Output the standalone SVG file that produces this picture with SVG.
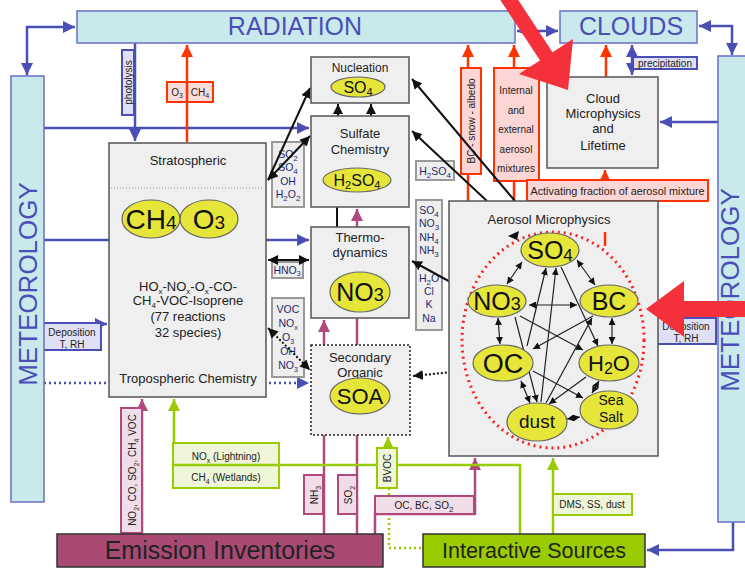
<svg xmlns="http://www.w3.org/2000/svg" width="745" height="568" viewBox="0 0 745 568">
<style>
text{font-family:"Liberation Sans",Arial,sans-serif;fill:#222}
.box{fill:#efefef;stroke:#555;stroke-width:1.5}
.cyan{fill:#c9e9ec;stroke:#6a6fc6;stroke-width:1.5}
.big{fill:#4a4fb8;font-size:25px;text-anchor:middle}
.met{fill:#4a4fb8;font-size:26px;text-anchor:middle}
.t13{font-size:13px;text-anchor:middle}
.ell{fill:#e6e53a;stroke:#666;stroke-width:1.2}
.et{text-anchor:middle;fill:#111}
.blue{stroke:#4a4fb5;stroke-width:2.5;fill:none}
.red{stroke:#ff3300;stroke-width:2.5;fill:none}
.mar{stroke:#b0497e;stroke-width:2.5;fill:none}
.grn{stroke:#99cc00;stroke-width:2.5;fill:none}
.blk{stroke:#111;stroke-width:2;fill:none}
.thin{stroke:#222;stroke-width:1.2;fill:none}
.gl{fill:#eeeeee;stroke:#999;stroke-width:2}
.lt{font-size:10.5px;fill:#1e2a6a;text-anchor:middle}
.st{font-size:10px;text-anchor:middle}
.rl{fill:#fcd6d4;stroke:#ff3300;stroke-width:2}
.ml{fill:#f1dde8;stroke:#b0497e;stroke-width:2}
.gr{fill:#eef5d8;stroke:#99cc00;stroke-width:2}
.bl{fill:#dfe0f5;stroke:#4a4fb5;stroke-width:2}
.ann{fill:#f4313b}
</style>
<defs>
<marker id="mb" viewBox="0 0 10 10" refX="10" refY="5" markerWidth="12" markerHeight="12" markerUnits="userSpaceOnUse" orient="auto-start-reverse"><path d="M0,0L10,5L0,10z" fill="#4a4fb5"/></marker>
<marker id="mk" viewBox="0 0 10 10" refX="10" refY="5" markerWidth="10" markerHeight="10" markerUnits="userSpaceOnUse" orient="auto-start-reverse"><path d="M0,0L10,5L0,10z" fill="#111"/></marker>
<marker id="ms" viewBox="0 0 10 10" refX="10" refY="5" markerWidth="7" markerHeight="7" markerUnits="userSpaceOnUse" orient="auto-start-reverse"><path d="M0,0L10,5L0,10z" fill="#111"/></marker>
<marker id="mr" viewBox="0 0 10 10" refX="10" refY="5" markerWidth="12" markerHeight="12" markerUnits="userSpaceOnUse" orient="auto-start-reverse"><path d="M0,0L10,5L0,10z" fill="#ff3300"/></marker>
<marker id="mm" viewBox="0 0 10 10" refX="10" refY="5" markerWidth="12" markerHeight="12" markerUnits="userSpaceOnUse" orient="auto-start-reverse"><path d="M0,0L10,5L0,10z" fill="#b0497e"/></marker>
<marker id="mg" viewBox="0 0 10 10" refX="10" refY="5" markerWidth="12" markerHeight="12" markerUnits="userSpaceOnUse" orient="auto-start-reverse"><path d="M0,0L10,5L0,10z" fill="#99cc00"/></marker>
</defs>
<rect width="745" height="568" fill="#fff"/>

<g id="connectors">
  <path class="blue" d="M75,27 H27 V75" marker-start="url(#mb)" marker-end="url(#mb)"/>
  <path class="blue" d="M699,26 H732 V55" marker-start="url(#mb)" marker-end="url(#mb)"/>
  <path class="blue" d="M517,31 H558" marker-start="url(#mb)" marker-end="url(#mb)"/>
  <path class="blue" d="M135,43 V141" marker-end="url(#mb)"/>
  <path class="blue" d="M44,128 H309" marker-end="url(#mb)"/>
  <path class="blue" d="M44,240 H309" marker-end="url(#mb)"/>
  <path class="blue" d="M44,383 H309" stroke-dasharray="2,3" marker-end="url(#mb)"/>
  <path class="blue" d="M100,324 H107" marker-end="url(#mb)"/>
  <path class="blue" d="M632,45 V75" marker-start="url(#mb)" marker-end="url(#mb)"/>
  <path class="blue" d="M718,122 H660" marker-end="url(#mb)"/>
  <path class="blue" d="M733,522 V550 H647" marker-end="url(#mb)"/>
  <path class="red" d="M187,142 V45" marker-end="url(#mr)"/>
  <path class="red" d="M468,201 V45" marker-end="url(#mr)"/>
  <path class="red" d="M514,201 V45" marker-end="url(#mr)"/>
  <path class="red" d="M606,77 V45" marker-end="url(#mr)"/>
  <path class="red" d="M605,201 V170" marker-end="url(#mr)"/>
  <path class="mar" d="M357,534 V209" marker-end="url(#mm)"/>
  <path class="mar" d="M324,534 V320" marker-end="url(#mm)"/>
  <path class="mar" d="M142,534 V399" marker-end="url(#mm)"/>
  <path class="mar" d="M375,534 V514 H475 V458" marker-end="url(#mm)"/>
  <path class="grn" d="M520,534 V465 H174 V399" marker-end="url(#mg)"/>
  <path class="grn" d="M388,448 V437" marker-end="url(#mg)"/>
  <path class="grn" d="M389,488 V548 H423" stroke-dasharray="2,3"/>
  <path class="grn" d="M553,534 V458" marker-end="url(#mg)"/>
  <path class="blk" d="M338,116 V104" marker-end="url(#mk)"/>
  <path class="blk" d="M371,116 V104" marker-end="url(#mk)"/>
  <path class="blk" d="M337,207 V227"/>

  <g id="labels">
    <rect class="bl" x="122" y="50" width="12" height="65"/>
    <text class="st" transform="translate(132,82.5) rotate(-90)" font-size="10">photolysis</text>
    <rect class="rl" x="167" y="82" width="46" height="20" fill-opacity="0.85"/>
    <line class="red" x1="187" y1="82" x2="187" y2="102"/>
    <text class="st" x="177" y="96">O<tspan dy="2" font-size="7">3</tspan></text>
    <text class="st" x="200" y="96">CH<tspan dy="2" font-size="7">4</tspan></text>
    <rect class="gl" x="272" y="142" width="32" height="65"/>
    <text class="lt" x="288" y="158">SO<tspan dy="3" font-size="8">2</tspan></text>
    <text class="lt" x="288" y="171">SO<tspan dy="3" font-size="8">4</tspan></text>
    <text class="lt" x="288" y="185">OH</text>
    <text class="lt" x="288" y="198">H<tspan dy="3" font-size="8">2</tspan><tspan dy="-3">O</tspan><tspan dy="3" font-size="8">2</tspan></text>
    <rect class="gl" x="272" y="262" width="31" height="16"/>
    <text class="lt" x="287" y="274">HNO<tspan dy="2" font-size="7">3</tspan></text>
    <rect class="gl" x="272" y="298" width="32" height="79"/>
    <text class="lt" x="288" y="313">VOC</text>
    <text class="lt" x="288" y="327">NO<tspan dy="3" font-size="7">x</tspan></text>
    <text class="lt" x="288" y="341">O<tspan dy="3" font-size="7">3</tspan></text>
    <text class="lt" x="288" y="355">OH</text>
    <text class="lt" x="288" y="369">NO<tspan dy="3" font-size="7">3</tspan></text>
    <rect class="gl" x="416" y="161" width="38" height="19"/>
    <text class="lt" x="435" y="175">H<tspan dy="3" font-size="8">2</tspan><tspan dy="-3">SO</tspan><tspan dy="3" font-size="8">4</tspan></text>
    <rect class="gl" x="416" y="200" width="26" height="130"/>
    <text class="lt" x="429" y="214">SO<tspan dy="3" font-size="8">4</tspan></text>
    <text class="lt" x="429" y="227">NO<tspan dy="3" font-size="8">3</tspan></text>
    <text class="lt" x="429" y="241">NH<tspan dy="3" font-size="8">4</tspan></text>
    <text class="lt" x="429" y="254">NH<tspan dy="3" font-size="8">3</tspan></text>
    <text class="lt" x="429" y="282">H<tspan dy="3" font-size="8">2</tspan><tspan dy="-3">O</tspan></text>
    <text class="lt" x="429" y="295">Cl</text>
    <text class="lt" x="429" y="308">K</text>
    <text class="lt" x="429" y="322">Na</text>
    <rect class="rl" x="461" y="68" width="20" height="106"/>
    <text class="st" transform="translate(475,121) rotate(-90)" font-size="11">BC - snow - albedo</text>
    <rect class="rl" x="494" y="68" width="45" height="113"/>
    <text class="st" x="516" y="94">Internal</text>
    <text class="st" x="516" y="114">and</text>
    <text class="st" x="516" y="133">external</text>
    <text class="st" x="516" y="153">aerosol</text>
    <text class="st" x="516" y="172">mixtures</text>
    <rect class="rl" x="527" y="180" width="181" height="21"/>
    <text x="617.5" y="195" font-size="10.8" text-anchor="middle">Activating fraction of  aerosol mixture</text>
    <rect class="bl" x="633" y="57" width="64" height="12"/>
    <text class="st" x="665" y="67">precipitation</text>
    <rect class="bl" x="43" y="323" width="58" height="27"/>
    <text class="st" x="72" y="336">Deposition</text>
    <text class="st" x="72" y="348">T, RH</text>
    <rect class="bl" x="657" y="318" width="59" height="26"/>
    <text class="st" x="686" y="330">Deposition</text>
    <text class="st" x="686" y="342">T, RH</text>
    <rect class="ml" x="121" y="408" width="21" height="125"/>
    <text class="st" transform="translate(135.5,470) rotate(-90)" font-size="10.5">NO<tspan dy="3" font-size="7">2</tspan><tspan dy="-3">, CO, SO</tspan><tspan dy="3" font-size="7">2</tspan><tspan dy="-3">, CH</tspan><tspan dy="3" font-size="7">4</tspan><tspan dy="-3"> VOC</tspan></text>
    <rect class="gr" x="173" y="443" width="106" height="45"/>
    <line class="grn" x1="173" y1="465" x2="279" y2="465"/>
    <text class="st" x="226" y="460">NO<tspan dy="3" font-size="7">x</tspan><tspan dy="-3"> (Lightning)</tspan></text>
    <text class="st" x="226" y="481">CH<tspan dy="3" font-size="7">4</tspan><tspan dy="-3"> (Wetlands)</tspan></text>
    <rect class="ml" x="304" y="475" width="19" height="39"/>
    <text class="st" transform="translate(318,495) rotate(-90)">NH<tspan dy="3" font-size="7">3</tspan></text>
    <rect class="ml" x="338" y="475" width="19" height="39"/>
    <text class="st" transform="translate(352,495) rotate(-90)">SO<tspan dy="3" font-size="7">2</tspan></text>
    <rect class="gr" x="377" y="448" width="20" height="40"/>
    <text class="st" transform="translate(391,468) rotate(-90)">BVOC</text>
    <rect class="ml" x="375" y="496" width="99" height="18"/>
    <text class="st" x="424" y="509" font-size="11">OC, BC, SO<tspan dy="3" font-size="8">2</tspan></text>
    <rect class="gr" x="553" y="494" width="79" height="21"/>
    <text class="st" x="592" y="508" font-size="10.5">DMS, SS, dust</text>
  </g>

  <path class="blk" d="M268,180 L310,88" marker-end="url(#mk)"/>
  <path class="blk" d="M268,180 L310,136" marker-start="url(#mk)" marker-end="url(#mk)"/>
  <path class="blk" d="M268,260 H309" marker-start="url(#mk)" marker-end="url(#mk)"/>
  <path class="blk" d="M268,328 L310,370" stroke-dasharray="2,2" marker-start="url(#mk)" marker-end="url(#mk)"/>
  <path class="blk" d="M412,261 L467,291" marker-start="url(#mk)" marker-end="url(#mk)"/>
  <path class="blk" d="M413,376 L472,370" stroke-dasharray="2,2" marker-start="url(#mk)" marker-end="url(#mk)"/>
  <path class="blk" d="M515,201 L412,79" marker-end="url(#mk)"/>
  <path class="blk" d="M487,201 L412,131" marker-end="url(#mk)"/>
</g>

<g id="radiation">
  <rect class="cyan" x="77" y="11" width="438" height="32"/>
  <text class="big" x="295" y="35">RADIATION</text>
</g>
<g id="clouds">
  <rect class="cyan" x="560" y="11" width="137" height="32"/>
  <text class="big" x="631" y="35">CLOUDS</text>
</g>
<g id="meteorology-left">
  <rect class="cyan" x="11" y="76" width="33" height="426"/>
  <text class="met" transform="translate(37,284) rotate(-90)">METEOROLOGY</text>
</g>
<g id="meteorology-right">
  <rect class="cyan" x="718" y="56" width="32" height="466"/>
  <text class="met" transform="translate(739,290) rotate(-90)">METEOROLOGY</text>
</g>
<g id="chemistry">
  <rect class="box" x="109" y="143" width="157" height="254"/>
  <line x1="111" y1="188" x2="264" y2="188" stroke="#999" stroke-width="1" stroke-dasharray="1,2"/>
  <text class="t13" x="188" y="165">Stratospheric</text>
  <ellipse class="ell" cx="151" cy="219" rx="29" ry="19"/>
  <ellipse class="ell" cx="209" cy="219" rx="29" ry="19"/>
  <text class="et" x="151" y="229" font-size="28">CH<tspan font-size="19">4</tspan></text>
  <text class="et" x="209" y="229" font-size="28">O<tspan font-size="19">3</tspan></text>
  <text class="t13" x="188" y="291">HO<tspan dy="3" font-size="8">x</tspan><tspan dy="-3">-NO</tspan><tspan dy="3" font-size="8">x</tspan><tspan dy="-3">-O</tspan><tspan dy="3" font-size="8">x</tspan><tspan dy="-3">-CO-</tspan></text>
  <text class="t13" x="188" y="305">CH<tspan dy="3" font-size="8">4</tspan><tspan dy="-3">-VOC-Isoprene</tspan></text>
  <text class="t13" x="188" y="321">(77 reactions</text>
  <text class="t13" x="188" y="337">32 species)</text>
  <text class="t13" x="188" y="383">Tropospheric Chemistry</text>
</g>
<g id="nucleation">
  <rect class="box" x="311" y="57" width="98" height="46"/>
  <text x="360" y="72" font-size="12" text-anchor="middle">Nucleation</text>
  <ellipse class="ell" cx="358" cy="87" rx="27" ry="10"/>
  <text class="et" x="358" y="93" font-size="16">SO<tspan dy="3" font-size="11">4</tspan></text>
</g>
<g id="sulfate">
  <rect class="box" x="311" y="116" width="98" height="91"/>
  <text class="t13" x="360" y="138">Sulfate</text>
  <text class="t13" x="360" y="154">Chemistry</text>
  <ellipse class="ell" cx="357" cy="180" rx="34" ry="12"/>
  <text class="et" x="357" y="186" font-size="16">H<tspan dy="3" font-size="11">2</tspan><tspan dy="-3">SO</tspan><tspan dy="3" font-size="11">4</tspan></text>
</g>
<g id="thermodynamics">
  <rect class="box" x="311" y="227" width="98" height="91"/>
  <text class="t13" x="360" y="242">Thermo-</text>
  <text class="t13" x="360" y="257">dynamics</text>
  <ellipse class="ell" cx="360" cy="292" rx="30" ry="20"/>
  <text class="et" x="360" y="301" font-size="25">NO<tspan font-size="18">3</tspan></text>
</g>
<g id="soa">
  <rect x="311" y="345" width="99" height="90" fill="#efefef" stroke="#222" stroke-width="1.5" stroke-dasharray="2,2"/>
  <text class="t13" x="360" y="362">Secondary</text>
  <text class="t13" x="360" y="377">Organic</text>
  <ellipse class="ell" cx="360" cy="396" rx="30" ry="18"/>
  <text class="et" x="360" y="404" font-size="22">SOA</text>
</g>
<g id="cloud-microphysics">
  <rect class="box" x="547" y="77" width="111" height="91"/>
  <text class="t13" x="603" y="103">Cloud</text>
  <text class="t13" x="603" y="118">Microphysics</text>
  <text class="t13" x="603" y="133">and</text>
  <text class="t13" x="603" y="150">Lifetime</text>
</g>
<g id="aerosol">
  <rect class="box" x="449" y="201" width="209" height="255"/>
  <text class="t13" x="549" y="224">Aerosol Microphysics</text>
  <path class="red" d="M605,232 V246"/>
  <ellipse cx="553" cy="340" rx="91" ry="108" fill="none" stroke="#ff2020" stroke-width="3" stroke-dasharray="2,4"/>
  <path d="M508,236 L519,231 L517,240z" fill="#111"/>
  <g>
    <path class="thin" d="M522,262 L507,284" marker-start="url(#ms)" marker-end="url(#ms)"/>
    <path class="thin" d="M577,260 L595,285" marker-start="url(#ms)" marker-end="url(#ms)"/>
    <path class="thin" d="M529,305 H577" marker-start="url(#ms)" marker-end="url(#ms)"/>
    <path class="thin" d="M498,318 L500,344" marker-start="url(#ms)" marker-end="url(#ms)"/>
    <path class="thin" d="M612,318 V344" marker-start="url(#ms)" marker-end="url(#ms)"/>
    <path class="thin" d="M521,381 L530,403" marker-start="url(#ms)" marker-end="url(#ms)"/>
    <path class="thin" d="M567,419 L580,417" marker-start="url(#ms)" marker-end="url(#ms)"/>
    <path class="thin" d="M599,381 L592,393" marker-start="url(#ms)" marker-end="url(#ms)"/>
    <path class="thin" d="M527,346 L546,268" marker-end="url(#ms)"/>
    <path class="thin" d="M541,402 L556,268" marker-end="url(#ms)"/>
    <path class="thin" d="M561,267 L598,346" marker-end="url(#ms)"/>
    <path class="thin" d="M520,316 L583,350" marker-end="url(#ms)"/>
    <path class="thin" d="M593,316 L533,349" marker-end="url(#ms)"/>
    <path class="thin" d="M515,317 L537,402" marker-end="url(#ms)"/>
    <path class="thin" d="M533,371 L583,398" marker-end="url(#ms)"/>
    <path class="thin" d="M586,377 L549,404" marker-end="url(#ms)"/>
    <path class="thin" d="M546,403 L592,318" marker-end="url(#ms)"/>
  </g>
  <ellipse class="ell" cx="550" cy="250" rx="29" ry="17"/>
  <text class="et" x="550" y="259" font-size="25">SO<tspan dy="2" font-size="17">4</tspan></text>
  <ellipse class="ell" cx="497" cy="301" rx="29" ry="16"/>
  <text class="et" x="497" y="310" font-size="25">NO<tspan font-size="18">3</tspan></text>
  <ellipse class="ell" cx="609" cy="301" rx="29" ry="16"/>
  <text class="et" x="609" y="310" font-size="25">BC</text>
  <ellipse class="ell" cx="503" cy="363" rx="30" ry="18"/>
  <text class="et" x="503" y="373" font-size="27">OC</text>
  <ellipse class="ell" cx="609" cy="363" rx="30" ry="18"/>
  <text class="et" x="609" y="371" font-size="22">H<tspan dy="3" font-size="16">2</tspan><tspan dy="-3">O</tspan></text>
  <ellipse class="ell" cx="609" cy="410" rx="29" ry="19"/>
  <text class="et" x="611" y="405" font-size="14">Sea</text>
  <text class="et" x="611" y="422" font-size="14">Salt</text>
  <ellipse class="ell" cx="537" cy="422" rx="30" ry="19"/>
  <text class="et" x="537" y="428" font-size="19">dust</text>
</g>
<g id="emission-inventories">
  <rect x="57" y="534" width="326" height="33" fill="#a84a74" stroke="#333" stroke-width="1.5"/>
  <text x="220" y="559" font-size="25" text-anchor="middle" fill="#111">Emission Inventories</text>
</g>
<g id="interactive-sources">
  <rect x="423" y="534" width="222" height="33" fill="#99cc00" stroke="#333" stroke-width="1.5"/>
  <text x="534" y="558" font-size="21.5" text-anchor="middle" fill="#111">Interactive Sources</text>
</g>
<g id="annotation-arrows">
  <line x1="506" y1="-5" x2="550" y2="62" stroke="#f4313b" stroke-width="15"/>
  <polygon class="ann" points="568,90 519,74 573,39"/>
  <rect class="ann" x="682" y="301" width="63" height="16"/>
  <polygon class="ann" points="646,309 684,281 684,337"/>
</g>
</svg>
